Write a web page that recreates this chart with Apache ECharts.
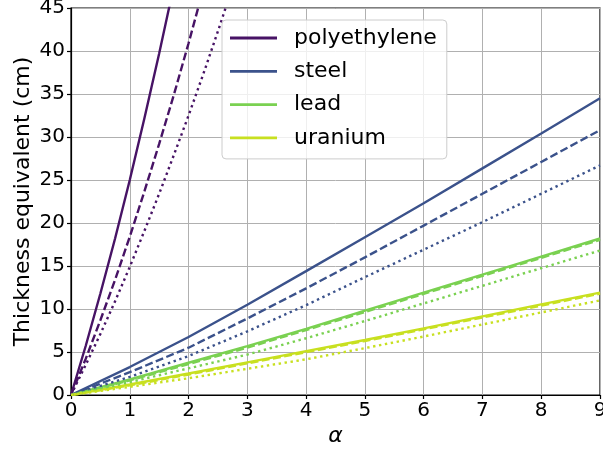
<!DOCTYPE html>
<html>
<head>
<meta charset="utf-8">
<script src="https://cdn.jsdelivr.net/npm/echarts@6/dist/echarts.min.js"></script>
<style>
  html, body { margin: 0; padding: 0; background: #fff; }
  #chart { width: 603px; height: 451px; }
</style>
</head>
<body>
<div id="chart"></div>
<script>
// Thickness equivalent (cm) versus alpha, for three variants (solid, dashed, dotted) per material
const materials = ['polyethylene', 'steel', 'lead', 'uranium'];
const colors = ['#471365', '#3b528b', '#7ad151', '#c8e020'];

const alphaFine = [0, 0.25, 0.5, 0.75, 1, 1.25, 1.5, 1.75, 2, 2.25, 2.5, 2.75];
const alphaInt = [0, 1, 2, 3, 4, 5, 6, 7, 8, 9];

const polySolid  = [0, 5.7, 11.8, 18.2, 25.0, 32.2, 39.7, 47.6];
const polyDashed = [0, 4.2, 8.7, 13.4, 18.4, 23.7, 29.2, 34.9, 40.9, 47.2];
const polyDotted = [0, 3.5, 7.1, 10.9, 14.9, 19.1, 23.4, 27.9, 32.5, 37.3, 42.3, 47.5];

const steelSolid  = [0, 3.25, 6.74, 10.5, 14.4, 18.35, 22.3, 26.35, 30.4, 34.5];
const steelDashed = [0, 2.65, 5.5, 8.9, 12.4, 16.0, 19.7, 23.4, 27.1, 30.8];
const steelDotted = [0, 2.1, 4.53, 7.4, 10.45, 13.7, 16.9, 20.1, 23.4, 26.7];

const leadSolid  = [0, 1.8, 3.75, 5.68, 7.7, 9.8, 11.9, 14.0, 16.1, 18.2];
const leadDashed = [0, 1.7, 3.6, 5.5, 7.55, 9.65, 11.75, 13.85, 15.95, 18.05];
const leadDotted = [0, 1.5, 3.1, 4.7, 6.6, 8.6, 10.65, 12.7, 14.75, 16.8];

const uranSolid  = [0, 1.22, 2.5, 3.8, 5.1, 6.4, 7.75, 9.15, 10.54, 11.9];
const uranDashed = [0, 1.12, 2.38, 3.68, 4.98, 6.28, 7.63, 9.02, 10.4, 11.78];
const uranDotted = [0, 0.95, 1.95, 3.05, 4.15, 5.45, 6.8, 8.2, 9.6, 11.0];

const xTicks = [0, 1, 2, 3, 4, 5, 6, 7, 8, 9];
const yTicks = [0, 5, 10, 15, 20, 25, 30, 35, 40, 45];

const FONT = 'DejaVu Sans';
const LINE_W = 2.4;
const DASHED = [8, 3.4];
const DOTTED = [2.4, 3.6];

function pairs(xs, ys) {
  return ys.map((y, i) => [xs[i], y]);
}

function lineSeries(name, color, xs, ys, dash) {
  return {
    name: name,
    type: 'line',
    data: pairs(xs, ys),
    symbol: 'none',
    smooth: false,
    clip: true,
    z: 3,
    lineStyle: { color: color, width: LINE_W, type: dash, cap: 'butt' },
    itemStyle: { color: color },
    emphasis: { disabled: true }
  };
}

const series = [
  lineSeries(materials[0], colors[0], alphaFine, polySolid, 'solid'),
  lineSeries(materials[1], colors[1], alphaInt, steelSolid, 'solid'),
  lineSeries(materials[2], colors[2], alphaInt, leadSolid, 'solid'),
  lineSeries(materials[3], colors[3], alphaInt, uranSolid, 'solid'),
  lineSeries(materials[0] + ' dashed', colors[0], alphaFine, polyDashed, DASHED),
  lineSeries(materials[1] + ' dashed', colors[1], alphaInt, steelDashed, DASHED),
  lineSeries(materials[2] + ' dashed', colors[2], alphaInt, leadDashed, DASHED),
  lineSeries(materials[3] + ' dashed', colors[3], alphaInt, uranDashed, DASHED),
  lineSeries(materials[0] + ' dotted', colors[0], alphaFine, polyDotted, DOTTED),
  lineSeries(materials[1] + ' dotted', colors[1], alphaInt, steelDotted, DOTTED),
  lineSeries(materials[2] + ' dotted', colors[2], alphaInt, leadDotted, DOTTED),
  lineSeries(materials[3] + ' dotted', colors[3], alphaInt, uranDotted, DOTTED)
];

const chart = echarts.init(document.getElementById('chart'), null, { renderer: 'canvas' });

chart.setOption({
  animation: false,
  backgroundColor: '#ffffff',
  textStyle: { fontFamily: FONT },
  grid: {
    left: 71, right: 3, top: 8, bottom: 56,
    containLabel: false,
    outerBoundsMode: 'none',
    show: true, borderColor: '#000', borderWidth: 1.2, backgroundColor: 'transparent'
  },
  legend: {
    data: materials,
    orient: 'vertical',
    left: 222, top: 20,
    padding: [7, 10, 10, 8],
    icon: 'rect',
    itemWidth: 47, itemHeight: 2.8, itemGap: 11.3,
    backgroundColor: 'rgba(255,255,255,0.8)',
    borderColor: '#cccccc', borderWidth: 1, borderRadius: 4,
    selectedMode: false,
    textStyle: { fontFamily: FONT, fontSize: 22, color: '#000', lineHeight: 22, padding: [0, 0, 0, 12] }
  },
  xAxis: {
    type: 'value',
    min: xTicks[0], max: xTicks[xTicks.length - 1], interval: 1,
    name: 'α',
    nameLocation: 'middle',
    nameGap: 30,
    nameMoveOverlap: false,
    nameTextStyle: { fontFamily: FONT, fontSize: 22, fontStyle: 'italic', color: '#000' },
    axisLine: { show: true, onZero: false, lineStyle: { color: '#000', width: 1.2 } },
    axisTick: { show: true, inside: false, length: 4, lineStyle: { color: '#000', width: 1.2 } },
    axisLabel: { fontFamily: FONT, fontSize: 20, color: '#000', margin: 6,
      formatter: v => String(v) },
    splitLine: { show: true, lineStyle: { color: '#b0b0b0', width: 1 } }
  },
  yAxis: {
    type: 'value',
    min: yTicks[0], max: yTicks[yTicks.length - 1], interval: 5,
    name: 'Thickness equivalent (cm)',
    nameLocation: 'middle',
    nameGap: 37,
    nameMoveOverlap: false,
    nameTextStyle: { fontFamily: FONT, fontSize: 22, color: '#000' },
    axisLine: { show: true, lineStyle: { color: '#000', width: 1.2 } },
    axisTick: { show: true, inside: false, length: 4, lineStyle: { color: '#000', width: 1.2 } },
    axisLabel: { fontFamily: FONT, fontSize: 20, color: '#000', margin: 6 },
    splitLine: { show: true, lineStyle: { color: '#b0b0b0', width: 1 } }
  },
  series: series
});
</script>
</body>
</html>
